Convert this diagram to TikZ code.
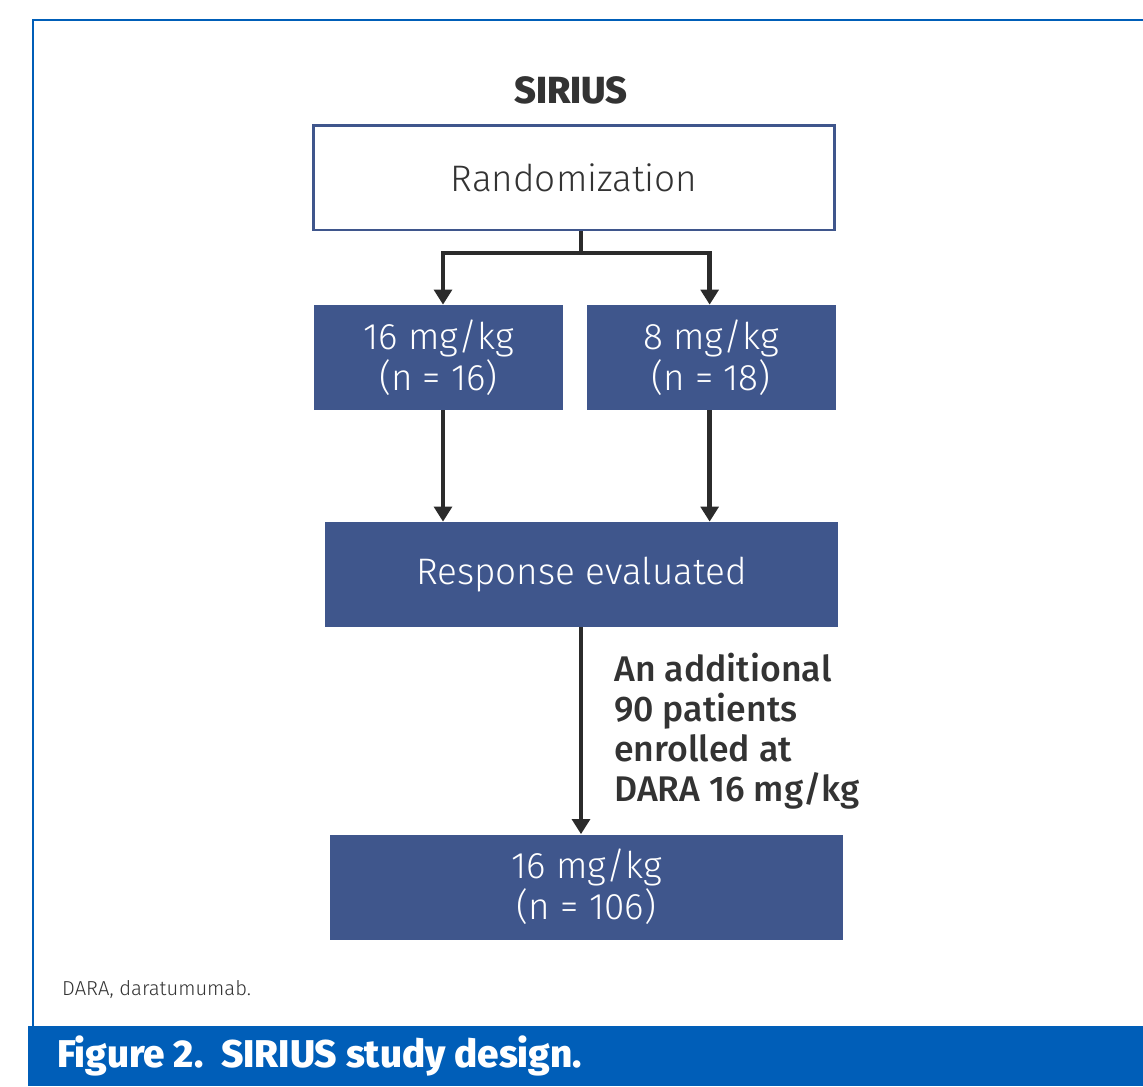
\documentclass[tikz,border=0pt]{standalone}
\usepackage{fontspec}
\setmainfont{Fira Sans}
\newfontfamily\lightfont{Fira Sans Light}
\newfontfamily\midfont{Fira Sans Medium}
\newfontfamily\heavyfont{Fira Sans ExtraBold}
\usepackage{xcolor}
\usepackage{tikz}
\usetikzlibrary{positioning, arrows.meta, calc}

\definecolor{navy}{HTML}{3F568C}
\definecolor{framecol}{HTML}{005EB8}
\definecolor{ink}{HTML}{2B2B2B}
\definecolor{txt}{HTML}{333333}

\begin{document}
\begin{tikzpicture}[
    x=0.02cm, y=-0.02cm,
    node distance=0.46cm and 0.46cm,
    box/.style={rectangle, minimum height=2.1cm, align=center, inner sep=0pt,
                font=\lightfont\fontsize{21}{23.5}\selectfont},
    armbox/.style={box, fill=navy, text=white, minimum width=4.98cm},
    widebox/.style={box, fill=navy, text=white, minimum width=10.26cm},
    arrow/.style={-{Triangle[width=10pt, length=8.5pt]}, line width=2.7pt, draw=ink},
    title/.style={font=\heavyfont\fontsize{21.5}{24}\selectfont, text=txt}
]
\useasboundingbox (0,0) rectangle (1143,1086);
% Frame and caption band
\draw[framecol, line width=1.7pt] (33,1026) -- (33,20) -- (1143,20);
\fill[framecol] (28,1026) rectangle (1143,1086);
\node[anchor=west, text=white, font=\heavyfont\fontsize{22}{24}\selectfont]
      (caption) at (51,1056) {Figure 2.\ \ SIRIUS study design.};
\node[anchor=west, text=txt, font=\lightfont\fontsize{11.5}{14}\selectfont]
      (note) at (56,990) {DARA, daratumumab.};
% Flow
\node[title] (sirius) at (571,90) {SIRIUS};
\node[box, draw=navy, line width=1.7pt, fill=white, text=txt, minimum width=10.44cm]
      (rand) at (574,177.5) {Randomization};
\node[armbox] (d16) at (438.5,357.5) {16 mg/kg\\(n = 16)};
\node[armbox, right=of d16] (d8) {8 mg/kg\\(n = 18)};
\node[widebox] (resp) at (581.5,574.5) {Response evaluated};
\node[widebox] (final) at (586.5,887) {16 mg/kg\\(n = 106)};
\coordinate (split) at (581,253);
\coordinate (l16) at ($(d16.south)+(4.5,0)$);
\coordinate (l8) at ($(d8.south)+(-1.5,0)$);
\draw[line width=2.7pt, draw=ink] (split |- rand.south) -- (split);
\draw[arrow] (split) -| (l16 |- d16.north);
\draw[arrow] (split) -| (l8 |- d8.north);
\draw[arrow] (l16) -- (l16 |- resp.north);
\draw[arrow] (l8) -- (l8 |- resp.north);
\draw[arrow] (split |- resp.south) -- node[right=0.5cm, align=left, text=txt,
      font=\midfont\fontsize{20.3}{22.8}\selectfont]
      {An additional\\90 patients\\enrolled at\\DARA 16 mg/kg} (split |- final.north);
\end{tikzpicture}
\end{document}
